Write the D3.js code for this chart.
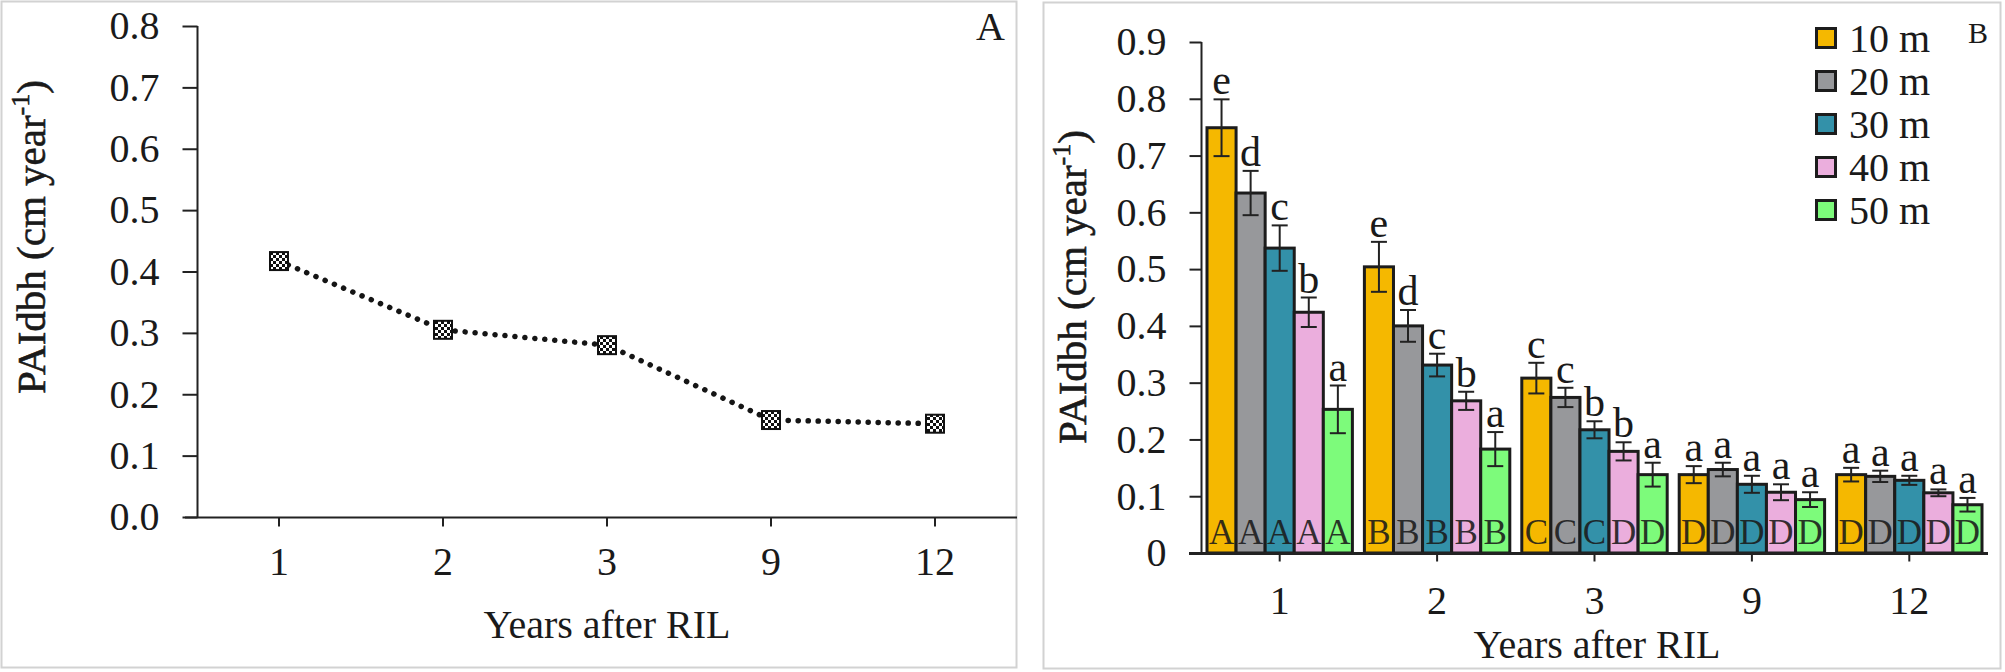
<!DOCTYPE html>
<html>
<head>
<meta charset="utf-8">
<script src="https://cdn.jsdelivr.net/npm/d3@7"></script>
<style>
  body { margin: 0; background: #fff; }
  svg text { font-family: "Liberation Serif", "Times New Roman", serif; fill: #1a1a1a; }
</style>
</head>
<body>
<script>
// data
const years = ["1", "2", "3", "9", "12"];
const lineValues = [0.417, 0.305, 0.280, 0.158, 0.152];

const series = ["10 m", "20 m", "30 m", "40 m", "50 m"];
const colors = ["#f5b800", "#97989b", "#3391a9", "#ebaedd", "#7dfb7b"];
const v10 = [0.749, 0.504, 0.308, 0.138, 0.138];
const v20 = [0.634, 0.400, 0.274, 0.147, 0.135];
const v30 = [0.537, 0.331, 0.217, 0.121, 0.128];
const v40 = [0.424, 0.268, 0.179, 0.107, 0.106];
const v50 = [0.253, 0.183, 0.138, 0.094, 0.085];
const e10 = [0.050, 0.044, 0.027, 0.015, 0.012];
const e20 = [0.039, 0.028, 0.017, 0.012, 0.010];
const e30 = [0.040, 0.020, 0.015, 0.015, 0.008];
const e40 = [0.026, 0.016, 0.016, 0.014, 0.006];
const e50 = [0.042, 0.030, 0.021, 0.013, 0.012];
// letters above the bars (within-year) and inside the bars (between-year)
const l10 = ["e", "e", "c", "a", "a"];
const l20 = ["d", "d", "c", "a", "a"];
const l30 = ["c", "c", "b", "a", "a"];
const l40 = ["b", "b", "b", "a", "a"];
const l50 = ["a", "a", "a", "a", "a"];
const u10 = ["A", "B", "C", "D", "D"];
const u20 = ["A", "B", "C", "D", "D"];
const u30 = ["A", "B", "C", "D", "D"];
const u40 = ["A", "B", "D", "D", "D"];
const u50 = ["A", "B", "D", "D", "D"];

const yTicksA = [0, 0.1, 0.2, 0.3, 0.4, 0.5, 0.6, 0.7, 0.8];
const yTicksB = [0, 0.1, 0.2, 0.3, 0.4, 0.5, 0.6, 0.7, 0.8, 0.9];

const W = 2005, H = 672;
const svg = d3.select("body").append("svg")
    .attr("width", W)
    .attr("height", H);

// checker fill for the line markers
const pat = svg.append("defs").append("pattern")
    .attr("id", "checker")
    .attr("patternUnits", "userSpaceOnUse")
    .attr("width", 6).attr("height", 6);
pat.append("rect").attr("width", 6).attr("height", 6).attr("fill", "#fff");
pat.append("rect").attr("width", 3).attr("height", 3).attr("fill", "#111");
pat.append("rect").attr("x", 3).attr("y", 3).attr("width", 3).attr("height", 3).attr("fill", "#111");

// ---------- panel A ----------
svg.append("rect")
    .attr("x", 1.5).attr("y", 1.5).attr("width", 1015).attr("height", 666)
    .attr("fill", "none").attr("stroke", "#d2d2d2").attr("stroke-width", 2);

const xA = d3.scaleBand().domain(years).range([197, 1017]);
const yA = d3.scaleLinear().domain([0, 0.8]).range([517, 26]);

const gA = svg.append("g");

const axA = gA.append("g")
    .attr("transform", "translate(197.5,0)")
    .call(d3.axisLeft(yA).tickValues(yTicksA).tickFormat(d3.format(".1f")).tickSize(15).tickPadding(23));
axA.select(".domain").attr("d", "M0," + yA(0.8) + "V" + yA(0));

const axAx = gA.append("g")
    .attr("transform", "translate(0,517.5)")
    .call(d3.axisBottom(xA).tickSize(9).tickPadding(20));
axAx.select(".domain").attr("d", "M185,0H1017");

[axA, axAx].forEach(a => {
  a.selectAll("path, line").attr("stroke", "#222").attr("stroke-width", 2);
  a.selectAll("text").attr("font-size", 40).attr("font-family", "Liberation Serif").attr("fill", "#1a1a1a");
});
axAx.selectAll("text").attr("dy", "0.71em");

const lineA = d3.line()
    .x((d, i) => xA(years[i]) + xA.bandwidth() / 2)
    .y(d => yA(d));

gA.append("path")
    .datum(lineValues)
    .attr("d", lineA)
    .attr("fill", "none")
    .attr("stroke", "#151515")
    .attr("stroke-width", 5.5)
    .attr("stroke-linecap", "round")
    .attr("stroke-dasharray", "0.1 9.9");

gA.selectAll(".mk")
    .data(lineValues)
    .join("rect")
    .attr("class", "mk")
    .attr("x", (d, i) => xA(years[i]) + xA.bandwidth() / 2 - 9)
    .attr("y", d => yA(d) - 9)
    .attr("width", 18).attr("height", 18)
    .attr("fill", "url(#checker)")
    .attr("stroke", "#111").attr("stroke-width", 2);

gA.append("text")
    .attr("x", 607).attr("y", 638)
    .attr("text-anchor", "middle")
    .attr("font-size", 40)
    .text("Years after RIL");

function yTitle(g, x, y) {
  const t = g.append("text")
      .attr("transform", "translate(" + x + "," + y + ") rotate(-90)")
      .attr("text-anchor", "middle")
      .attr("font-size", 41)
      .attr("stroke", "#1a1a1a")
      .attr("stroke-width", 0.6);
  t.append("tspan").text("PAIdbh (cm year");
  t.append("tspan").attr("font-size", 26).attr("dy", -16).text("-1");
  t.append("tspan").attr("dy", 16).text(")");
}
yTitle(gA, 45, 237);

gA.append("text")
    .attr("x", 1005).attr("y", 40)
    .attr("text-anchor", "end")
    .attr("font-size", 40)
    .text("A");

// ---------- panel B ----------
svg.append("rect")
    .attr("x", 1043.5).attr("y", 2.5).attr("width", 957).attr("height", 666)
    .attr("fill", "none").attr("stroke", "#d2d2d2").attr("stroke-width", 2);

const xB = d3.scaleBand().domain(years).range([1201, 1988]);
const xS = d3.scaleBand().domain(series).range([6, xB.bandwidth() - 6]);
const yB = d3.scaleLinear().domain([0, 0.9]).range([553, 42]);

const gB = svg.append("g");

const vals = [v10, v20, v30, v40, v50];
const errs = [e10, e20, e30, e40, e50];
const lows = [l10, l20, l30, l40, l50];
const ups = [u10, u20, u30, u40, u50];

const bars = [];
years.forEach((yr, i) => {
  series.forEach((s, j) => {
    bars.push({year: yr, s: s, j: j, v: vals[j][i], e: errs[j][i], lo: lows[j][i], up: ups[j][i]});
  });
});

const bx = d => xB(d.year) + xS(d.s);
const bw = xS.bandwidth();

gB.selectAll(".bar")
    .data(bars)
    .join("rect")
    .attr("class", "bar")
    .attr("x", bx)
    .attr("y", d => yB(d.v))
    .attr("width", bw)
    .attr("height", d => yB(0) - yB(d.v))
    .attr("fill", d => colors[d.j])
    .attr("stroke", "#1c1c1c")
    .attr("stroke-width", 3);

gB.selectAll(".up")
    .data(bars)
    .join("text")
    .attr("class", "up")
    .attr("x", d => bx(d) + bw / 2)
    .attr("y", 544)
    .attr("text-anchor", "middle")
    .attr("font-size", 35)
    .attr("fill", "#111")
    .attr("fill-opacity", 0.88)
    .text(d => d.up);

const eb = gB.selectAll(".eb")
    .data(bars)
    .join("g")
    .attr("class", "eb")
    .attr("stroke", "#222")
    .attr("stroke-width", 2);
eb.append("line")
    .attr("x1", d => bx(d) + bw / 2).attr("x2", d => bx(d) + bw / 2)
    .attr("y1", d => yB(d.v + d.e)).attr("y2", d => yB(d.v - d.e));
eb.append("line")
    .attr("x1", d => bx(d) + bw / 2 - 8).attr("x2", d => bx(d) + bw / 2 + 8)
    .attr("y1", d => yB(d.v + d.e)).attr("y2", d => yB(d.v + d.e));
eb.append("line")
    .attr("x1", d => bx(d) + bw / 2 - 8).attr("x2", d => bx(d) + bw / 2 + 8)
    .attr("y1", d => yB(d.v - d.e)).attr("y2", d => yB(d.v - d.e));

gB.selectAll(".lo")
    .data(bars)
    .join("text")
    .attr("class", "lo")
    .attr("x", d => bx(d) + bw / 2)
    .attr("y", d => yB(d.v + d.e) - 5)
    .attr("text-anchor", "middle")
    .attr("font-size", 42)
    .text(d => d.lo);

const axB = gB.append("g")
    .attr("transform", "translate(1201.5,0)")
    .call(d3.axisLeft(yB).tickValues(yTicksB).tickFormat(d => d === 0 ? "0" : d3.format(".1f")(d)).tickSize(12).tickPadding(23));
axB.select(".domain").attr("d", "M0," + yB(0.9) + "V" + yB(0));

const axBx = gB.append("g")
    .attr("transform", "translate(0,553.5)")
    .call(d3.axisBottom(xB).tickSize(8).tickPadding(24));
axBx.select(".domain").attr("d", "M1189,0H1988");

[axB, axBx].forEach(a => {
  a.selectAll("path, line").attr("stroke", "#222").attr("stroke-width", 2);
  a.selectAll("text").attr("font-size", 40).attr("font-family", "Liberation Serif").attr("fill", "#1a1a1a");
});
axBx.selectAll("text").attr("dy", "0.71em");
axBx.select(".domain").attr("stroke-width", 3);

gB.append("text")
    .attr("x", 1597).attr("y", 658)
    .attr("text-anchor", "middle")
    .attr("font-size", 40)
    .text("Years after RIL");

yTitle(gB, 1086, 287);

// legend
const lg = gB.selectAll(".lg")
    .data(series)
    .join("g")
    .attr("class", "lg")
    .attr("transform", (d, i) => "translate(1815," + (52 + i * 43) + ")");
lg.append("rect")
    .attr("x", 1.5).attr("y", -23.5).attr("width", 19).attr("height", 19)
    .attr("fill", (d, i) => colors[i])
    .attr("stroke", "#1c1c1c").attr("stroke-width", 3);
lg.append("text")
    .attr("x", 34).attr("y", 0)
    .attr("font-size", 40)
    .text(d => d);

gB.append("text")
    .attr("x", 1988).attr("y", 43)
    .attr("text-anchor", "end")
    .attr("font-size", 30)
    .text("B");
</script>
</body>
</html>
